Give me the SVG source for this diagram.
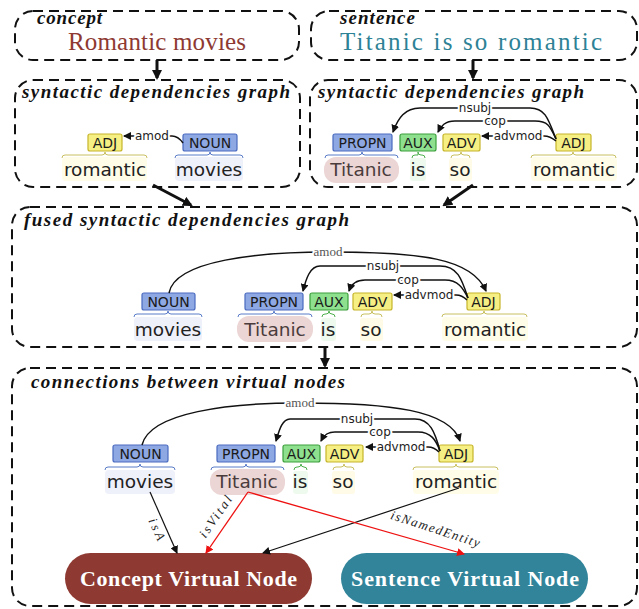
<svg xmlns="http://www.w3.org/2000/svg" width="639" height="609" viewBox="0 0 639 609">
<style>
.panel{fill:none;stroke:#111;stroke-width:2;stroke-dasharray:10 6}
.title{font-family:"Liberation Serif",serif;font-style:italic;font-weight:bold;font-size:19px;fill:#111}
.big{font-family:"Liberation Serif",serif;font-size:25px}
.tag{font-family:"DejaVu Sans",sans-serif;font-size:14px;fill:#1a1a1a;text-anchor:middle}
.word{font-family:"DejaVu Sans",sans-serif;font-size:18.5px;fill:#222;text-anchor:middle}
.lab{font-family:"DejaVu Sans",sans-serif;font-size:12px;fill:#222;text-anchor:middle;stroke:#fff;stroke-width:4;paint-order:stroke}
.slab{font-family:"Liberation Serif",serif;font-size:13px;fill:#555;text-anchor:middle;stroke:#fff;stroke-width:4;paint-order:stroke}
.rel{font-family:"Liberation Serif",serif;font-style:italic;font-size:13px;fill:#222;text-anchor:middle}
.vn{font-family:"Liberation Serif",serif;font-weight:bold;font-size:22px;fill:#fff}
.blue{fill:#8ea8e4;stroke:#4a6bbf;stroke-width:1.2}
.green{fill:#8ee08e;stroke:#3d9f3d;stroke-width:1.2}
.yellow{fill:#f5ef84;stroke:#c6b52a;stroke-width:1.2}
.arc{fill:none;stroke:#111;stroke-width:1.5}
.big-arrow{fill:none;stroke:#111;stroke-width:3}
.bb{fill:none;stroke:#5b7cc8;stroke-width:1}
.bg{fill:none;stroke:#4caf4c;stroke-width:1}
.by{fill:none;stroke:#c8c060;stroke-width:1}
</style>
<defs>
<marker id="ah" markerWidth="8" markerHeight="8" refX="7" refY="4" orient="auto" markerUnits="userSpaceOnUse"><path d="M0,0 L8,4 L0,8 Z" fill="#111"/></marker>
<marker id="ahb" markerWidth="10" markerHeight="10" refX="8" refY="5" orient="auto" markerUnits="userSpaceOnUse"><path d="M0,0 L10,5 L0,10 Z" fill="#111"/></marker>
<marker id="ahr" markerWidth="8" markerHeight="8" refX="7" refY="4" orient="auto" markerUnits="userSpaceOnUse"><path d="M0,0 L8,4 L0,8 Z" fill="#ee1111"/></marker>
</defs>

<!-- panels -->
<g id="concept">
<rect class="panel" x="15" y="11" width="284" height="49" rx="18"/>
<text class="title" x="37" y="24" textLength="65" lengthAdjust="spacing">concept</text>
<text class="big" x="68" y="50" textLength="178" lengthAdjust="spacing" fill="#8e3a32">Romantic movies</text>
</g>
<g id="sentence">
<rect class="panel" x="311" y="11" width="326" height="49" rx="18"/>
<text class="title" x="340" y="24" textLength="75" lengthAdjust="spacing">sentence</text>
<text class="big" x="340" y="50" textLength="262" lengthAdjust="spacing" fill="#2e8296">Titanic is so romantic</text>
</g>

<!-- left syntactic graph -->
<g id="syn-left">
<rect class="panel" x="15" y="80" width="285" height="107" rx="18"/>
<text class="title" x="22" y="98" textLength="268" lengthAdjust="spacing">syntactic dependencies graph</text>
<rect x="62" y="157" width="85" height="24" rx="4" fill="#fffde8"/>
<rect x="175" y="157" width="68" height="24" rx="4" fill="#eef0fa"/>
<path class="by" d="M62,158 Q62,155 65,155 L102,155 Q105,155 105,152 Q105,155 108,155 L144,155 Q147,155 147,158"/>
<path class="bb" d="M175,158 Q175,155 178,155 L207,155 Q210,155 210,152 Q210,155 213,155 L240,155 Q243,155 243,158"/>
<g id="l-adj"><rect class="yellow" x="88" y="134" width="34" height="17" rx="2"/><text class="tag" x="105" y="147.5">ADJ</text></g>
<g id="l-noun"><rect class="blue" x="183" y="134" width="54" height="17" rx="2"/><text class="tag" x="210" y="147.5">NOUN</text></g>
<text class="word" x="105" y="176">romantic</text>
<text class="word" x="209" y="176">movies</text>
</g>

<!-- right syntactic graph -->
<g id="syn-right">
<rect class="panel" x="310" y="80" width="327" height="107" rx="18"/>
<text class="title" x="318" y="98" textLength="266" lengthAdjust="spacing">syntactic dependencies graph</text>
<rect x="324" y="157" width="75" height="26" rx="12" fill="#ecd5d5"/>
<rect x="410" y="158" width="16" height="23" rx="3" fill="#eefaee"/>
<rect x="449" y="158" width="23" height="23" rx="3" fill="#fffbe6"/>
<rect x="531" y="157" width="86" height="24" rx="4" fill="#fffde8"/>
<path class="bb" d="M325,158 Q325,155 328,155 L359,155 Q362,155 362,152 Q362,155 365,155 L395,155 Q398,155 398,158"/>
<path class="bg" d="M412,158 Q412,155 415,155 L418,155 Q418,155 418,152 Q418,155 421,155 L422,155 Q425,155 425,158"/>
<path class="by" d="M451,158 Q451,155 454,155 L458,155 Q461,155 461,152 Q461,155 464,155 L467,155 Q470,155 470,158"/>
<path class="by" d="M531,158 Q531,155 534,155 L570,155 Q573,155 573,152 Q573,155 576,155 L613,155 Q616,155 616,158"/>
<g id="r-propn"><rect class="blue" x="333" y="134" width="59" height="17" rx="2"/><text class="tag" x="362.5" y="147.5">PROPN</text></g>
<g id="r-aux"><rect class="green" x="400" y="134" width="36" height="17" rx="2"/><text class="tag" x="418" y="147.5">AUX</text></g>
<g id="r-adv"><rect class="yellow" x="443" y="134" width="37" height="17" rx="2"/><text class="tag" x="461.5" y="147.5">ADV</text></g>
<g id="r-adj"><rect class="yellow" x="556" y="134" width="35" height="17" rx="2"/><text class="tag" x="573.5" y="147.5">ADJ</text></g>
<text class="word" x="361" y="176" style="fill:#4a3c3c">Titanic</text>
<text class="word" x="418" y="176">is</text>
<text class="word" x="460" y="176">so</text>
<text class="word" x="574" y="176">romantic</text>
</g>

<!-- fused graph -->
<g id="fused">
<rect class="panel" x="12" y="207" width="625" height="140" rx="18"/>
<text class="title" x="24" y="226" textLength="325" lengthAdjust="spacing">fused syntactic dependencies graph</text>
<rect x="134" y="317" width="68" height="24" rx="4" fill="#eef0fa"/>
<rect x="237" y="316" width="76" height="26" rx="12" fill="#ecd5d5"/>
<rect x="321" y="318" width="15" height="23" rx="3" fill="#eefaee"/>
<rect x="360" y="318" width="23" height="23" rx="3" fill="#fffbe6"/>
<rect x="442" y="317" width="86" height="24" rx="4" fill="#fffde8"/>
<path class="bb" d="M134,317 Q134,314 137,314 L165,314 Q168,314 168,311 Q168,314 171,314 L199,314 Q202,314 202,317"/>
<path class="bb" d="M238,317 Q238,314 241,314 L271,314 Q274,314 274,311 Q274,314 277,314 L309,314 Q312,314 312,317"/>
<path class="bg" d="M322,317 Q322,314 325,314 L326,314 Q329,314 329,311 Q329,314 332,314 L332,314 Q335,314 335,317"/>
<path class="by" d="M361,317 Q361,314 364,314 L369,314 Q372,314 372,311 Q372,314 375,314 L379,314 Q382,314 382,317"/>
<path class="by" d="M442,317 Q442,314 445,314 L481,314 Q484,314 484,311 Q484,314 487,314 L524,314 Q527,314 527,317"/>
<g id="f-noun"><rect class="blue" x="142" y="293" width="53" height="17" rx="2"/><text class="tag" x="168.5" y="306.5">NOUN</text></g>
<g id="f-propn"><rect class="blue" x="245" y="293" width="58" height="17" rx="2"/><text class="tag" x="274" y="306.5">PROPN</text></g>
<g id="f-aux"><rect class="green" x="310" y="293" width="38" height="17" rx="2"/><text class="tag" x="329" y="306.5">AUX</text></g>
<g id="f-adv"><rect class="yellow" x="353" y="293" width="39" height="17" rx="2"/><text class="tag" x="372.5" y="306.5">ADV</text></g>
<g id="f-adj"><rect class="yellow" x="467" y="293" width="33" height="17" rx="2"/><text class="tag" x="483.5" y="306.5">ADJ</text></g>
<text class="word" x="168" y="336">movies</text>
<text class="word" x="275" y="336" style="fill:#4a3c3c">Titanic</text>
<text class="word" x="328" y="336">is</text>
<text class="word" x="371" y="336">so</text>
<text class="word" x="485" y="336">romantic</text>
</g>

<!-- virtual node panel -->
<g id="virtual">
<rect class="panel" x="12" y="368" width="625" height="238" rx="18"/>
<text class="title" x="31" y="388" textLength="314" lengthAdjust="spacing">connections between virtual nodes</text>
<rect x="105" y="470" width="70" height="24" rx="4" fill="#eef0fa"/>
<rect x="210" y="469" width="75" height="26" rx="12" fill="#ecd5d5"/>
<rect x="293" y="471" width="15" height="23" rx="3" fill="#eefaee"/>
<rect x="332" y="471" width="23" height="23" rx="3" fill="#fffbe6"/>
<rect x="413" y="470" width="86" height="24" rx="4" fill="#fffde8"/>
<path class="bb" d="M105,470 Q105,467 108,467 L137,467 Q140,467 140,464 Q140,467 143,467 L172,467 Q175,467 175,470"/>
<path class="bb" d="M211,470 Q211,467 214,467 L243,467 Q246,467 246,464 Q246,467 249,467 L281,467 Q284,467 284,470"/>
<path class="bg" d="M294,470 Q294,467 297,467 L298,467 Q301,467 301,464 Q301,467 304,467 L304,467 Q307,467 307,470"/>
<path class="by" d="M333,470 Q333,467 336,467 L341,467 Q344,467 344,464 Q344,467 347,467 L351,467 Q354,467 354,470"/>
<path class="by" d="M413,470 Q413,467 416,467 L453,467 Q456,467 456,464 Q456,467 459,467 L495,467 Q498,467 498,470"/>
<g id="v-noun"><rect class="blue" x="113" y="445" width="55" height="17" rx="2"/><text class="tag" x="140.5" y="458.5">NOUN</text></g>
<g id="v-propn"><rect class="blue" x="217" y="445" width="58" height="17" rx="2"/><text class="tag" x="246" y="458.5">PROPN</text></g>
<g id="v-aux"><rect class="green" x="283" y="445" width="37" height="17" rx="2"/><text class="tag" x="301.5" y="458.5">AUX</text></g>
<g id="v-adv"><rect class="yellow" x="326" y="445" width="37" height="17" rx="2"/><text class="tag" x="344.5" y="458.5">ADV</text></g>
<g id="v-adj"><rect class="yellow" x="439" y="445" width="34" height="17" rx="2"/><text class="tag" x="456" y="458.5">ADJ</text></g>
<text class="word" x="140" y="488">movies</text>
<text class="word" x="247" y="488" style="fill:#4a3c3c">Titanic</text>
<text class="word" x="300" y="488">is</text>
<text class="word" x="343" y="488">so</text>
<text class="word" x="456" y="488">romantic</text>
</g>
<g id="concept-vn">
<rect x="65" y="553" width="247" height="51" rx="25.5" fill="#8e3a32"/>
<text class="vn" x="80" y="586" textLength="217" lengthAdjust="spacing">Concept Virtual Node</text>
</g>
<g id="sentence-vn">
<rect x="341" y="553" width="247" height="51" rx="25.5" fill="#31849a"/>
<text class="vn" x="351" y="586" textLength="228" lengthAdjust="spacing">Sentence Virtual Node</text>
</g>

<!-- connectors -->
<g id="connectors">
<path class="big-arrow" d="M157,60 L157,78" marker-end="url(#ahb)"/>
<path class="big-arrow" d="M473,60 L473,78" marker-end="url(#ahb)"/>
<path class="big-arrow" d="M153,185 L191,205" marker-end="url(#ahb)"/>
<path class="big-arrow" d="M473,185 L444,205" marker-end="url(#ahb)"/>
<path class="big-arrow" d="M325,347 L325,366" marker-end="url(#ahb)"/>

<path class="arc" d="M183,143 Q178,136 172,136 L124,136" marker-end="url(#ah)"/>
<text class="lab" x="152" y="140">amod</text>

<path class="arc" d="M556,139 C548,118 545,108 530,108 L420,108 C405,108 398,118 393,132" marker-end="url(#ah)"/>
<path class="arc" d="M556,139 C550,126 548,121 535,121 L455,121 C445,121 441,126 438,132" marker-end="url(#ah)"/>
<path class="arc" d="M556,141 Q550,136 544,136 L482,136" marker-end="url(#ah)"/>
<text class="lab" x="475" y="112">nsubj</text>
<text class="lab" x="495" y="125">cop</text>
<text class="lab" x="518" y="140">advmod</text>

<path class="arc" d="M169,293 C175,260 260,252 328,252 C420,252 472,258 486,291" marker-end="url(#ah)"/>
<path class="arc" d="M468,298 C462,280 458,266 440,266 L320,266 C310,266 306,279 303,291" marker-end="url(#ah)"/>
<path class="arc" d="M468,298 C463,288 458,280 445,280 L365,280 C355,280 351,285 349,291" marker-end="url(#ah)"/>
<path class="arc" d="M467,300 Q462,295 456,295 L394,295" marker-end="url(#ah)"/>
<text class="slab" x="328" y="256">amod</text>
<text class="lab" x="383" y="270">nsubj</text>
<text class="lab" x="408" y="284">cop</text>
<text class="lab" x="429" y="299">advmod</text>

<path class="arc" d="M142,445 C150,412 230,403 300,403 C390,403 450,410 460,441" marker-end="url(#ah)"/>
<path class="arc" d="M440,451 C435,432 430,419 415,419 L290,419 C282,419 279,431 276,441" marker-end="url(#ah)"/>
<path class="arc" d="M440,451 C436,440 431,432 418,432 L335,432 C326,432 323,437 321,441" marker-end="url(#ah)"/>
<path class="arc" d="M439,452 Q434,447 428,447 L366,447" marker-end="url(#ah)"/>
<text class="slab" x="300" y="407">amod</text>
<text class="lab" x="357" y="423">nsubj</text>
<text class="lab" x="380" y="436">cop</text>
<text class="lab" x="401" y="451">advmod</text>

<path d="M150,492 L177,553" stroke="#111" stroke-width="1.2" fill="none" marker-end="url(#ah)"/>
<path d="M459,488 L263,553" stroke="#111" stroke-width="1.2" fill="none" marker-end="url(#ah)"/>
<path d="M248,492 L206,553" stroke="#ee1111" stroke-width="1.3" fill="none" marker-end="url(#ahr)"/>
<path d="M248,492 L464,554" stroke="#ee1111" stroke-width="1.3" fill="none" marker-end="url(#ahr)"/>
<text class="rel" transform="translate(153,531) rotate(66)" textLength="23" lengthAdjust="spacing">isA</text>
<text class="rel" transform="translate(219,519) rotate(-55.5)" textLength="48" lengthAdjust="spacing">isVital</text>
<text class="rel" transform="translate(434,533) rotate(18)" textLength="93" lengthAdjust="spacing">isNamedEntity</text>
</g>
</svg>
